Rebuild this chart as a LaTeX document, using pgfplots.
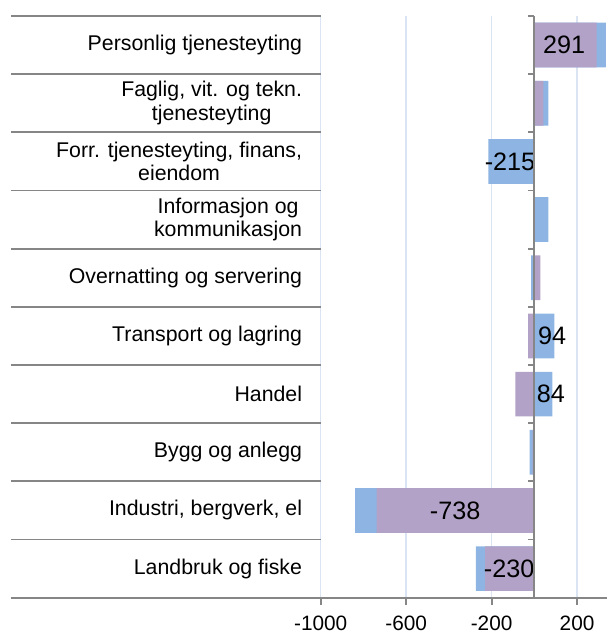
\documentclass[border=0pt]{standalone}
\usepackage{pgfplots}
\pgfplotsset{compat=1.18}
\usepackage{fontspec}
\setmainfont{Liberation Sans}
\definecolor{barblue}{RGB}{141,180,226}
\definecolor{barpurple}{RGB}{179,162,199}
\definecolor{gridblue}{RGB}{218,228,242}
\definecolor{axgray}{RGB}{134,134,134}
\begin{document}
\begin{tikzpicture}
\begin{axis}[
  scale only axis, width=143.15pt, height=290.85pt,
  xmin=-1000, xmax=340, ymin=-0.5, ymax=9.5,
  axis x line*=bottom, axis y line*=left,
  x axis line style={axgray, line width=0.9pt, -},
  y axis line style={draw=none},
  xtick={-1000,-600,-200,200}, xticklabels={-1000,-600,-200,200},
  xticklabel style={font=\fontsize{10.4}{12}\selectfont, yshift=-2pt},
  xmajorgrids, major grid style={gridblue, line width=0.8pt},
  ytick={0,...,9},
  yticklabels={Landbruk og fiske,{Industri, bergverk, el},Bygg og anlegg,Handel,Transport og lagring,Overnatting og servering,{Informasjon og\\kommunikasjon},{Forr. tjenesteyting, finans,\\eiendom},{Faglig, vit. og tekn.\\tjenesteyting},Personlig tjenesteyting},
  yticklabel style={align=center, anchor=east, xshift=-2.3pt, font=\fontsize{10.65}{11.8}\selectfont},
  minor ytick={-0.5,0.5,1.5,2.5,3.5,4.5,5.5,6.5,7.5,8.5,9.5},
  tick align=outside,
  major tick length=3.5pt,
  minor tick length=154.85pt,
  major y tick style={draw=none},
  minor y tick style={axgray, line width=0.9pt},
  major x tick style={axgray, line width=0.9pt},
]
\addplot[xbar, bar width=22.35pt, bar shift=0pt, fill=barblue, draw=none]
  coordinates {(-274,0) (-839,1) (-22,2) (84,3) (94,4) (-15,5) (66,6) (-215,7) (66,8) (335,9)};
\addplot[xbar, bar width=22.35pt, bar shift=0pt, fill=barpurple, draw=none]
  coordinates {(-230,0) (-738,1) (-8,2) (-89,3) (-29,4) (28,5) (-5,6) (0,7) (42,8) (291,9)};
\addplot[draw=none, mark=none, nodes near coords, point meta=explicit symbolic,
  nodes near coords style={anchor=center, font=\fontsize{12.6}{15}\selectfont, text=black}]
  coordinates {(139,9) [291] (-114,7) [-215] (83,4) [94] (77,3) [84] (-371,1) [-738] (-118,0) [-230]};
\end{axis}
\begin{axis}[
  at={(106.828pt,0pt)}, anchor=south west,
  scale only axis, width=36.32pt, height=290.85pt,
  xmin=0, xmax=340, ymin=-0.5, ymax=9.5,
  axis x line=none, axis y line*=left,
  y axis line style={axgray, line width=0.9pt, -},
  ytick={-0.5,0.5,1.5,2.5,3.5,4.5,5.5,6.5,7.5,8.5,9.5},
  yticklabels={},
  tick align=outside, major tick length=3pt,
  major y tick style={axgray, line width=0.9pt},
]
\end{axis}
\pgfresetboundingbox
\useasboundingbox (-160.35pt,-17.15pt) rectangle (143.15pt,298.85pt);
\end{tikzpicture}
\end{document}
